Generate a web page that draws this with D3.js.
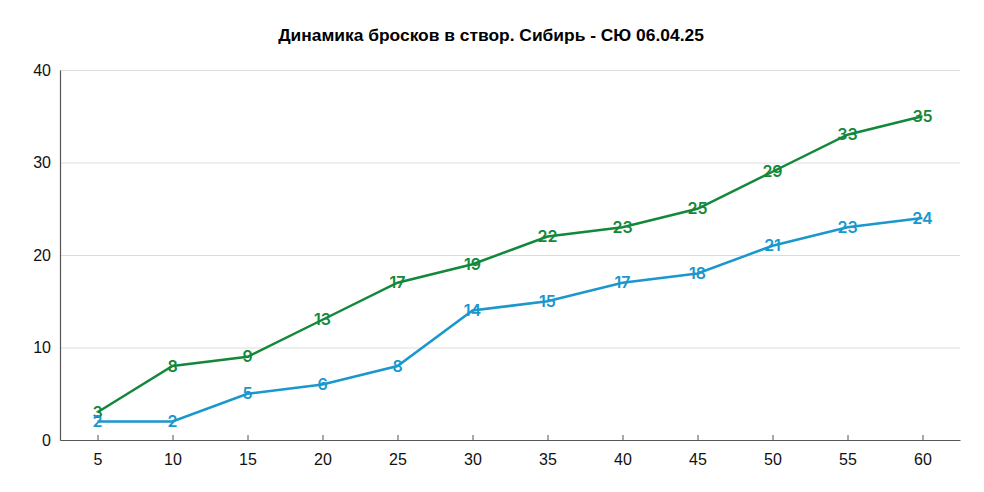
<!DOCTYPE html>
<html>
<head>
<meta charset="utf-8">
<script src="https://cdn.jsdelivr.net/npm/d3@7"></script>
<style>
  body { margin: 0; background: #fff; }
  text { font-family: "Liberation Sans", Arial, sans-serif; }
  .title { font-weight: bold; font-size: 17.4px; fill: #000; }
  .tick text { font-size: 16px; fill: #111; }
  .label { font-family: Inter, Roboto, sans-serif; font-weight: 600; font-size: 16px; }
</style>
</head>
<body>
<svg width="984" height="492"></svg>
<script>
const title = "Динамика бросков в створ. Сибирь - СЮ 06.04.25";
const minutes = [5, 10, 15, 20, 25, 30, 35, 40, 45, 50, 55, 60];
const sibir = [3, 8, 9, 13, 17, 19, 22, 23, 25, 29, 33, 35];
const su = [2, 2, 5, 6, 8, 14, 15, 17, 18, 21, 23, 24];
const yTicks = [0, 10, 20, 30, 40];

const series = [
  { name: "Сибирь", values: sibir, color: "#13883a" },
  { name: "СЮ", values: su, color: "#1a97cc" }
];

window.onload = () => {
  const svg = d3.select("svg");
  const margin = { top: 70, right: 24, bottom: 52, left: 60 };
  const w = +svg.attr("width") - margin.left - margin.right;
  const h = +svg.attr("height") - margin.top - margin.bottom;

  svg.append("text")
    .attr("class", "title")
    .attr("x", 491)
    .attr("y", 41)
    .attr("text-anchor", "middle")
    .text(title);

  const g = svg.append("g")
    .attr("transform", `translate(${margin.left}, ${margin.top})`);

  const x = d3.scalePoint()
    .domain(minutes)
    .range([0, w])
    .padding(0.5);

  const y = d3.scaleLinear()
    .domain([0, 40])
    .range([h, 0]);

  // grid
  g.append("g")
    .selectAll("line")
    .data(yTicks.filter(d => d > 0))
    .join("line")
      .attr("x1", 0)
      .attr("x2", w)
      .attr("y1", d => y(d) + 0.5)
      .attr("y2", d => y(d) + 0.5)
      .attr("stroke", "#dcdcdc");

  const yAxis = g.append("g")
    .call(d3.axisLeft(y).tickValues(yTicks).tickSize(0).tickPadding(9));
  yAxis.select(".domain").attr("stroke", "#555").attr("stroke-width", 1.2);

  const xAxis = g.append("g")
    .attr("transform", `translate(0, ${h})`)
    .call(d3.axisBottom(x).tickSize(-5).tickPadding(14).tickSizeOuter(0));
  xAxis.select(".domain").attr("stroke", "#555").attr("stroke-width", 1.2);
  xAxis.selectAll(".tick line").attr("stroke", "#555");

  const line = d3.line()
    .x((d, i) => x(minutes[i]))
    .y(d => y(d));

  series.forEach(s => {
    g.append("path")
      .datum(s.values)
      .attr("fill", "none")
      .attr("stroke", s.color)
      .attr("stroke-width", 2.5)
      .attr("d", line);
  });

  series.forEach(s => {
    g.append("g")
      .selectAll("text")
      .data(s.values)
      .join("text")
        .attr("class", "label")
        .attr("x", (d, i) => x(minutes[i]))
        .attr("y", d => y(d))
        .attr("dy", "0.35em")
        .attr("text-anchor", "middle")
        .attr("fill", s.color)
        .text(d => d);
  });
};
</script>
</body>
</html>
